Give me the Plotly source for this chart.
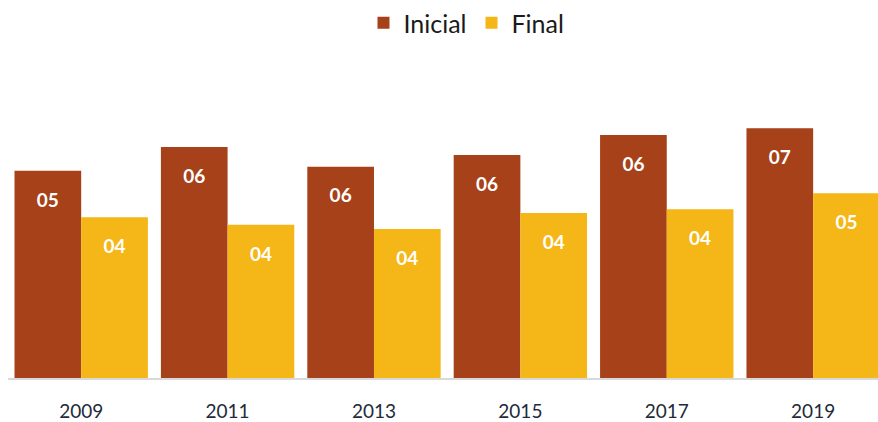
import plotly.graph_objects as go

years = ["2009", "2011", "2013", "2015", "2017", "2019"]
inicial = [5.45, 6.08, 5.56, 5.87, 6.39, 6.57]
final = [4.23, 4.03, 3.92, 4.34, 4.44, 4.86]
series_names = ["Inicial", "Final"]
colors = ["#A6411A", "#F5B617"]

label_tpl = "<span style='font-size:8px'>\u00a0</span><br>%{y:02.0f}"

fig = go.Figure()
for name, vals, col in zip(series_names, [inicial, final], colors):
    fig.add_trace(go.Bar(
        x=years, y=vals, name=name,
        marker=dict(color=col, line=dict(width=0)),
        texttemplate=label_tpl,
        textposition="inside",
        insidetextanchor="end",
        textangle=0,
        textfont=dict(family="Lato", size=19, color="white", weight="bold"),
        hoverinfo="skip",
    ))

fig.update_layout(
    width=878, height=422,
    margin=dict(l=8, r=0, t=61, b=40),
    paper_bgcolor="white", plot_bgcolor="white",
    barmode="group", bargap=0.089, bargroupgap=0,
    showlegend=True,
    legend=dict(orientation="h", x=0.527, xanchor="center", y=1.0, yanchor="top",
                yref="container", font=dict(family="Lato", size=25, color="#1a1a1a"),
                itemwidth=30, traceorder="normal"),
)
fig.update_xaxes(
    type="category", range=[-0.5, 5.443],
    showline=True, linecolor="#D9D9D9", linewidth=2,
    ticks="", ticklabelstandoff=15,
    tickfont=dict(family="Lato", size=19, color="#1E2B3A"),
    showgrid=False, zeroline=False,
)
fig.update_yaxes(range=[0, 8.34], visible=False, showgrid=False, zeroline=False)

fig.write_html("out.html", config={"displayModeBar": False},
               post_script="document.body.style.margin='0';document.body.style.padding='0';")
